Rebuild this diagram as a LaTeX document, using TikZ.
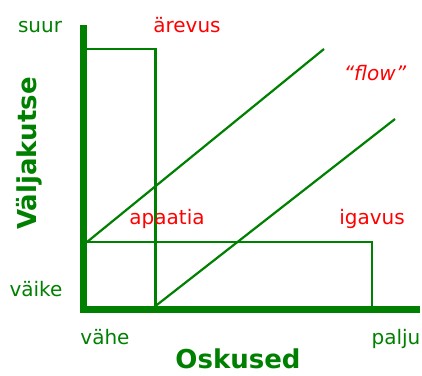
\documentclass[tikz,border=0pt]{standalone}
\usepackage{fontspec}
\setmainfont{DejaVu Sans}
\definecolor{axgreen}{RGB}{0,128,0}
\definecolor{lblred}{RGB}{255,0,0}
\begin{document}
\begin{tikzpicture}[x=1pt,y=-1pt,
  axis/.style={draw=axgreen,line width=7pt,line join=miter},
  thin/.style={draw=axgreen,line width=2.2pt},
  glbl/.style={text=axgreen,font=\fontsize{20pt}{24pt}\selectfont,anchor=base,inner sep=0pt},
  rlbl/.style={text=lblred,font=\fontsize{20pt}{24pt}\selectfont,anchor=base,inner sep=0pt},
  title/.style={text=axgreen,font=\fontsize{26pt}{30pt}\selectfont\bfseries,anchor=base,inner sep=0pt}]
\useasboundingbox (0,0) rectangle (422,375);
% axes
\coordinate (ytop) at (83.5,25);
\coordinate (orig) at (83.5,309.5);
\coordinate (xend) at (420,309.5);
\draw[axis] (ytop) -- (orig) -- (xend);
% key points
\coordinate (ahl) at (87,49);
\coordinate (ahr) at (155.5,49);
\coordinate (abot) at (155.5,306);
\coordinate (ill) at (87,242);
\coordinate (ilr) at (372,242);
\coordinate (ibot) at (372,306);
\coordinate (d1e) at (324,49);
\coordinate (d2e) at (395,119);
% regions
\draw[thin] (ahl) -- (ahr) -- (abot);
\draw[thin] (ill) -- (ilr) -- (ibot);
\draw[thin] (ill) -- (d1e);
\draw[thin] (abot) -- (d2e);
% labels
\node[glbl] (suur) at (40,32) {suur};
\node[glbl] (vaike) at (36,296) {väike};
\node[glbl] (vahe) at (105,344) {vähe};
\node[glbl] (palju) at (396,344) {palju};
\node[rlbl] (arevus) at (187,32) {ärevus};
\node[rlbl,font=\fontsize{20pt}{24pt}\selectfont\itshape] (flow) at (375,80) {“flow”};
\node[rlbl] (apaatia) at (167,224) {apaatia};
\node[rlbl] (igavus) at (372,224) {igavus};
\node[title] (osk) at (238,368) {Oskused};
\node[title,rotate=90] (val) at (36,153.5) {Väljakutse};
\end{tikzpicture}
\end{document}
